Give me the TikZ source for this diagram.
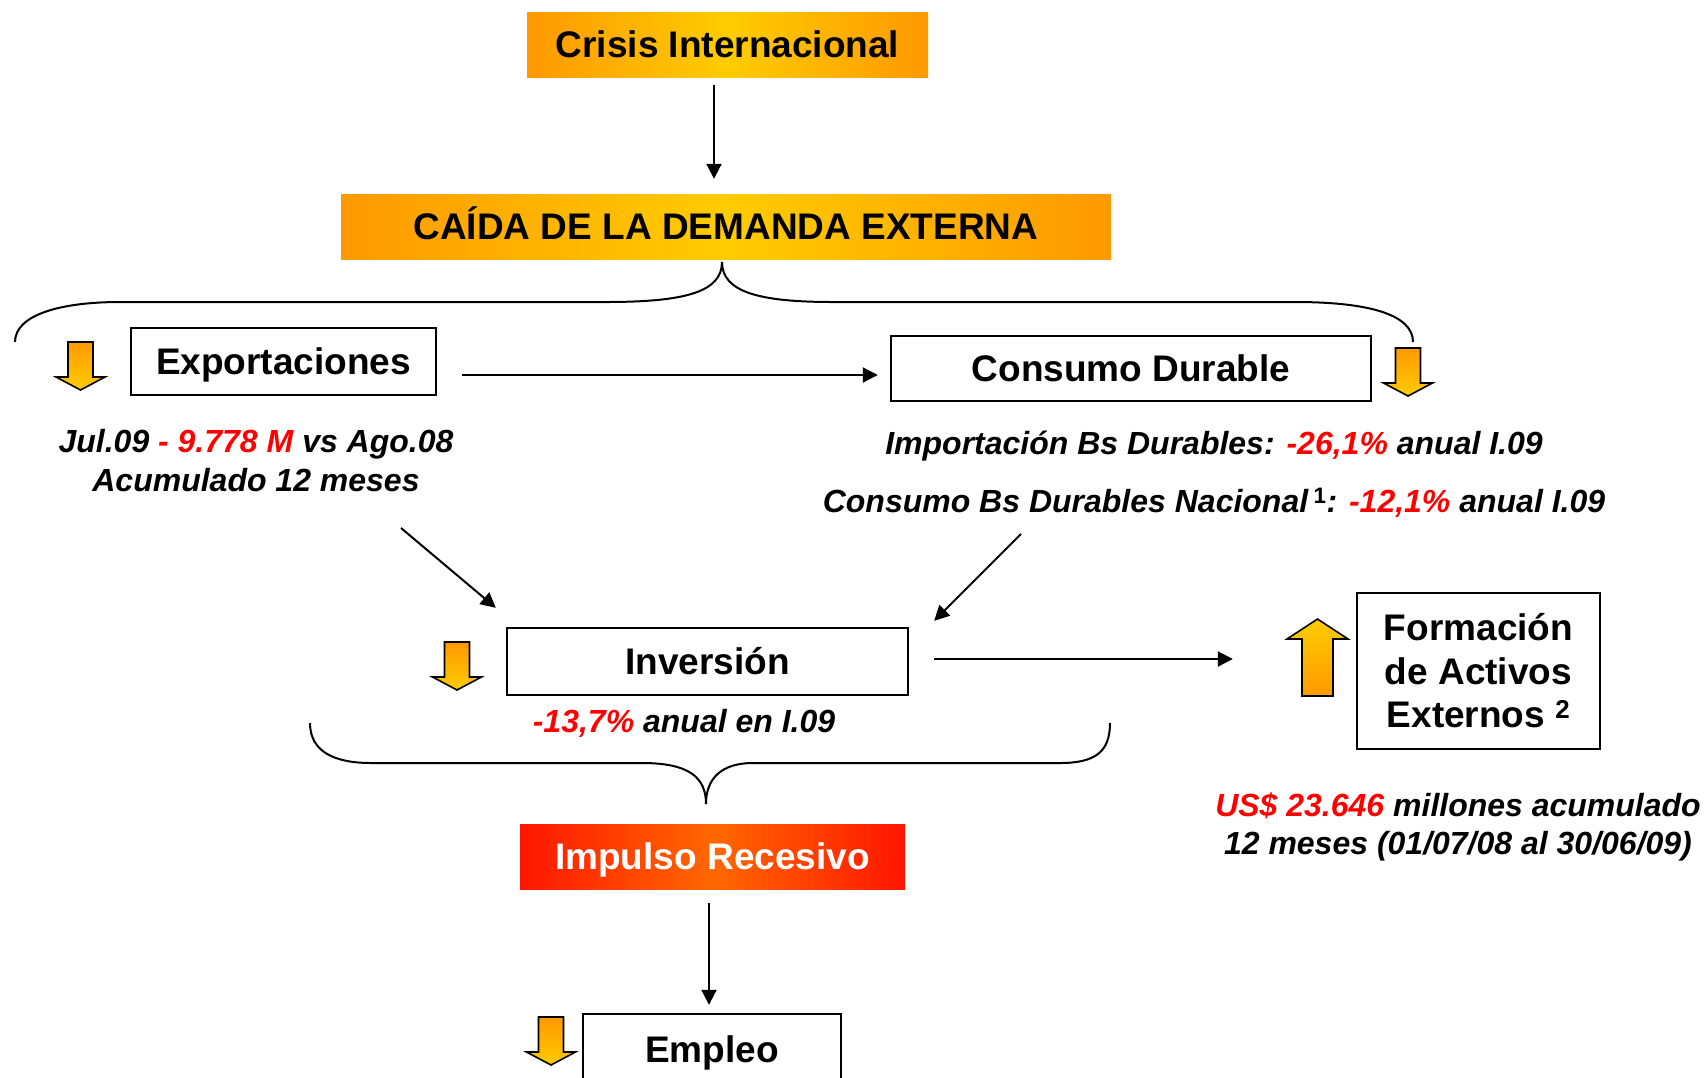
\documentclass[tikz,border=0pt]{standalone}
\usepackage{fontspec}
\setmainfont{Liberation Sans}
\usetikzlibrary{arrows.meta,calc}
\definecolor{bxorange}{RGB}{255,153,0}
\definecolor{bxyellow}{RGB}{255,204,0}
\definecolor{impred}{RGB}{255,22,0}
\definecolor{imporange}{RGB}{255,104,0}
\definecolor{numred}{RGB}{255,0,0}
\tikzset{
  downarr/.pic={\path[draw=black,line width=1.6pt,line join=miter,top color=bxorange,bottom color=bxyellow]
     (-12.5,0) -- (12.5,0) -- (12.5,35) -- (24.5,35) -- (0,48) -- (-24.5,35) -- (-12.5,35) -- cycle;},
  uparr/.pic={\path[draw=black,line width=1.6pt,line join=miter,top color=bxyellow,bottom color=bxorange]
     (0,0) -- (30.5,20) -- (15.5,20) -- (15.5,77) -- (-15.5,77) -- (-15.5,20) -- (-30.5,20) -- cycle;}
}
\begin{document}
\begin{tikzpicture}[x=1pt,y=-1pt,
  capc/.style={text height=26.5pt,text depth=0pt},
  box/.style={draw=black,line width=2.4pt,fill=white,inner sep=0pt,align=center,
     font=\fontsize{37}{43.5}\selectfont\bfseries},
  gradbox/.style={inner sep=0pt,capc,left color=bxorange,right color=bxorange,middle color=bxyellow,
     font=\fontsize{37}{44}\selectfont\bfseries},
  redbox/.style={inner sep=0pt,capc,left color=impred,right color=impred,middle color=imporange,
     text=white,font=\fontsize{37}{44}\selectfont\bfseries},
  note/.style={inner sep=0pt,align=center,font=\fontsize{32}{39}\selectfont\bfseries\itshape},
  conn/.style={draw=black,line width=2pt,-{Triangle[length=15pt,width=15pt]}},
  brace/.style={draw=black,line width=2pt}
]
\useasboundingbox (0,0) rectangle (1705,1077);
\clip (0,0) rectangle (1705,1077);

% boxes
\node[gradbox,minimum width=401,minimum height=65] (crisis) at (727.5,44.5) {Crisis Internacional};
\node[gradbox,minimum width=770,minimum height=65] (caida) at (726,226.5) {CAÍDA DE LA DEMANDA EXTERNA};
\node[box,capc,minimum width=305,minimum height=67] (export) at (283.5,361.5) {Exportaciones};
\node[box,capc,minimum width=480,minimum height=65] (consumo) at (1131,368.5) {Consumo Durable};
\node[box,capc,minimum width=401,minimum height=67] (inversion) at (707.5,661.5) {Inversión};
\node[box,minimum width=243,minimum height=156] (formacion) at (1478.5,671) {Formación\\de Activos\\Externos \textsuperscript{2}};
\node[redbox,minimum width=385,minimum height=65] (impulso) at (712.5,856.5) {Impulso Recesivo};
\node[box,capc,minimum width=258,minimum height=70] (empleo) at (712,1049) {Empleo};

% notes
\node[note] (exptxt) at (256,461) {Jul.09 {\color{numred}- 9.778 M} vs Ago.08\\Acumulado 12 meses};
\node[note] (imptxt) at (1214,446) {Importación Bs Durables: {\color{numred}-26,1\%} anual I.09};
\node[note] (contxt) at (1214,503) {Consumo Bs Durables Nacional\,{\upshape\textsuperscript{1}}: {\color{numred}-12,1\%} anual I.09};
\node[note] (invtxt) at (684,723) {{\color{numred}-13,7\%} anual en I.09};
\node[note,font=\fontsize{32}{38}\selectfont\bfseries\itshape] (fortxt) at (1458,827) {{\color{numred}US\$ 23.646} millones acumulado\\12 meses (01/07/08 al 30/06/09)};

% small arrows
\pic at (80.5,342) {downarr};
\pic at (1408,348) {downarr};
\pic at (457,642) {downarr};
\pic at (551,1017) {downarr};
\pic at (1317.5,619) {uparr};

% braces
\draw[brace] (15,342) .. controls (15,315) and (60,302) .. (120,302) -- (606,302)
  .. controls (685,302) and (722,292) .. (722,262)
  .. controls (722,292) and (759,302) .. (833,302) -- (1295,302)
  .. controls (1370,302) and (1413,315) .. (1413,342);
\draw[brace] (310,723) .. controls (310,752) and (335,763) .. (371,763) -- (642,763)
  .. controls (690,763) and (706,778) .. (706,804)
  .. controls (706,778) and (722,763) .. (753,763) -- (1060,763)
  .. controls (1095,763) and (1110,752) .. (1110,723);

% connectors
\coordinate (js) at (401,528);
\coordinate (cs) at (1021,534);
\draw[conn] ([xshift=-13.5,yshift=-8]crisis.south) -- ([xshift=-12,yshift=15]caida.north);
\draw[conn] ([xshift=25,yshift=-13.5]export.east) -- ([xshift=-12,yshift=-6.5]consumo.west);
\draw[conn] (js) -- ([xshift=-10,yshift=19]inversion.north west);
\draw[conn] (cs) -- ([xshift=25,yshift=6]inversion.north east);
\draw[conn] ([xshift=25,yshift=2.5]inversion.east) -- ([xshift=-123,yshift=12]formacion.west);
\draw[conn] ([xshift=-3.5,yshift=-14]impulso.south) -- ([xshift=-3,yshift=8]empleo.north);
\end{tikzpicture}
\end{document}
